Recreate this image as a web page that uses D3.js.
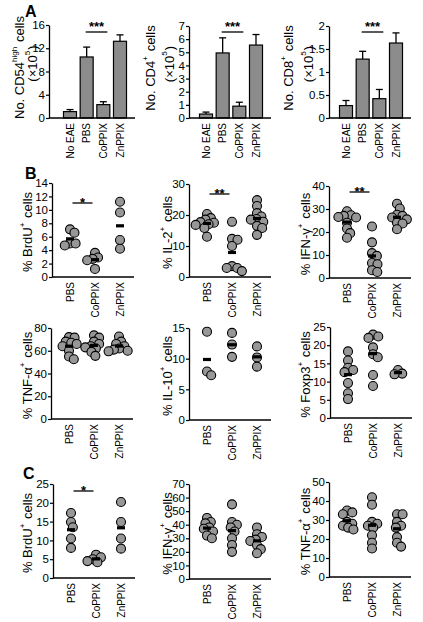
<!DOCTYPE html>
<html><head><meta charset="utf-8">
<script src="https://cdn.jsdelivr.net/npm/d3@7"></script>
<style>
body{margin:0;background:#fff}
svg{display:block}
text{font-family:"Liberation Sans",Arial,Helvetica,sans-serif;fill:#000}
.tick text{font-family:"Liberation Sans Narrow","Liberation Sans",Arial,sans-serif}
</style>
</head><body>
<svg id="chart" width="423" height="622"></svg>
<script>
// ---------------- DATA ----------------
const barGroups = ["No EAE", "PBS", "CoPPIX", "ZnPPIX"];
const cd54Mean = [1.1, 10.5, 2.3, 13.2];
const cd54Err  = [0.35, 1.7, 0.5, 1.1];
const cd4Mean  = [0.3, 4.95, 0.9, 5.55];
const cd4Err   = [0.15, 1.15, 0.3, 0.8];
const cd8Mean  = [0.27, 1.28, 0.42, 1.63];
const cd8Err   = [0.11, 0.17, 0.2, 0.22];
const cd54Ticks = [0, 4, 8, 12, 16];
const cd4Ticks  = [0, 1, 2, 3, 4, 5, 6, 7];
const cd8Ticks  = [0, 0.5, 1, 1.5, 2];

const dotGroups = ["PBS", "CoPPIX", "ZnPPIX"];
const brduB = [[7.1, 6.6, 5.0, 5.0, 4.7], [3.6, 2.9, 2.7, 2.5, 1.2], [11.2, 9.6, 5.5, 4.2]];
const il2B  = [[20.3, 19.0, 18.5, 17.7, 17.5, 17.0, 16.8, 15.8, 13.0], [17.8, 12.3, 12.0, 10.0, 3.5, 2.9, 2.9, 1.9], [24.8, 22.9, 20.6, 19.5, 18.7, 18.5, 17.8, 16.5, 15.8, 13.6]];
const ifngB = [[29, 27.3, 27, 26.5, 26.3, 24, 21.5, 19.5, 17.5], [22.4, 15.5, 10.8, 9.6, 6.5, 6.0, 3.4, 2.6], [32.3, 30.2, 27.5, 27, 26.3, 25.5, 24, 23.7, 21.2]];
const tnfB  = [[72, 71.5, 68, 67, 66, 64, 60, 55, 52.5], [73.5, 71.5, 68, 66, 64, 63, 62, 59, 55.5], [72.5, 68, 66, 64, 62, 61, 60, 59.5]];
const il10B = [[14.4, 7.9, 7.3], [14.2, 12.3, 10.3], [12.0, 10.2, 8.7]];
const foxp3B = [[18.3, 15.8, 13.8, 13.2, 12.6, 9.6, 6.8, 5.2], [22.9, 22.4, 22.0, 19.4, 17.5, 16.7, 11.8, 8.8], [13.2, 12.2, 12.0]];
const brduC = [[17.3, 14.9, 13.5, 10.5, 8.0], [6.2, 5.5, 5.0, 4.5, 4.2], [20.2, 14.9, 10.5, 7.8]];
const ifngC = [[45, 42, 41, 38, 37, 35, 32, 30], [55, 42, 40, 38, 35, 30, 25, 20], [38, 33, 31, 29, 28, 25, 22, 19]];
const tnfC  = [[35, 34, 33, 29, 28, 27, 26, 25], [42, 38, 29, 28, 27, 26, 22, 18, 15], [33, 33, 29, 27, 26, 21, 18, 16]];

const brduBTicks = [0, 2, 4, 6, 8, 10, 12, 14];
const il2Ticks = [0, 10, 20, 30];
const ifngBTicks = [0, 10, 20, 30, 40];
const tnfBTicks = [0, 20, 40, 60, 80];
const il10Ticks = [0, 5, 10, 15];
const foxp3Ticks = [0, 5, 10, 15, 20, 25];
const brduCTicks = [0, 5, 10, 15, 20, 25];
const ifngCTicks = [0, 10, 20, 30, 40, 50, 60, 70];
const tnfCTicks = [0, 10, 20, 30, 40, 50];

// ---------------- LAYOUT ----------------
const svg = d3.select("#chart");
const FILL_BAR = "#8c8c8c", FILL_DOT = "#979797";

function supLabel(g, parts, x, y, size) {
  const t = g.append("text")
    .attr("transform", `translate(${x},${y}) rotate(-90)`)
    .attr("text-anchor", "middle")
    .attr("dominant-baseline", "central")
    .style("font-size", size + "px");
  parts.forEach(p => {
    if (p.sup) {
      t.append("tspan").attr("dy", -size * 0.35).style("font-size", (size * 0.62) + "px").text(p.t);
      t.append("tspan").attr("dy", size * 0.35).text("\u200A");
    } else t.append("tspan").text(p.t);
  });
}

function yAxis(g, y, x0, ticks) {
  const ax = g.append("g").attr("transform", `translate(${x0},0)`)
    .call(d3.axisLeft(y).tickValues(ticks).tickFormat(d => String(d)).tickSize(3).tickSizeOuter(0).tickPadding(1));
  ax.attr("font-family", null);
  ax.select(".domain").attr("stroke-width", 1.3);
  ax.selectAll(".tick line").attr("stroke-width", 1.2);
  ax.selectAll(".tick text").style("font-size", "11.5px");
}

function xLabels(g, cats, xs, yb) {
  cats.forEach(c => {
    g.append("text")
      .attr("transform", `translate(${xs(c)},${yb + 5}) rotate(-90)`)
      .attr("text-anchor", "end")
      .attr("dominant-baseline", "central")
      .style("font-size", "10px")
      .text(c);
  });
}

function sig(g, x1, x2, yl, stars, dy) {
  g.append("line").attr("x1", x1).attr("x2", x2).attr("y1", yl).attr("y2", yl)
    .attr("stroke", "#000").attr("stroke-width", 1.3);
  g.append("text").attr("x", (x1 + x2) / 2).attr("y", yl + dy)
    .attr("text-anchor", "middle").style("font-size", "13px").style("font-weight", "bold").text(stars);
}

// Bar panels
const barPanels = [
  {mean: cd54Mean, err: cd54Err, ticks: cd54Ticks, x0: 49, xStart: 21, xEnd: 86, yTop: 25, yBot: 118,
   label1: [{t: "No. CD54"}, {t: "high", sup: true}, {t: "cells"}], l1x: 19, l2x: 32},
  {mean: cd4Mean, err: cd4Err, ticks: cd4Ticks, x0: 189, xStart: 17, xEnd: 82, yTop: 26, yBot: 118,
   label1: [{t: "No. CD4"}, {t: "+", sup: true}, {t: "cells"}], l1x: 150, l2x: 169},
  {mean: cd8Mean, err: cd8Err, ticks: cd8Ticks, x0: 329, xStart: 17, xEnd: 82, yTop: 26, yBot: 118,
   label1: [{t: "No. CD8"}, {t: "+", sup: true}, {t: "cells"}], l1x: 288, l2x: 308}
];

barPanels.forEach(p => {
  const g = svg.append("g");
  const y = d3.scaleLinear().domain([p.ticks[0], p.ticks[p.ticks.length - 1]]).range([p.yBot, p.yTop]);
  const x = d3.scalePoint().domain(barGroups).range([p.x0 + p.xStart, p.x0 + p.xStart + 50]);
  const bw = 13;
  const rows = barGroups.map((c, i) => ({c, m: p.mean[i], e: p.err[i]}));
  g.selectAll(".eb").data(rows).join("line")
    .attr("x1", d => x(d.c)).attr("x2", d => x(d.c))
    .attr("y1", d => y(d.m)).attr("y2", d => y(d.m + d.e))
    .attr("stroke", "#000").attr("stroke-width", 1.3);
  g.selectAll(".cap").data(rows).join("line")
    .attr("x1", d => x(d.c) - 3.5).attr("x2", d => x(d.c) + 3.5)
    .attr("y1", d => y(d.m + d.e)).attr("y2", d => y(d.m + d.e))
    .attr("stroke", "#000").attr("stroke-width", 1.3);
  g.selectAll(".bar").data(rows).join("rect")
    .attr("x", d => x(d.c) - bw / 2).attr("width", bw)
    .attr("y", d => y(d.m)).attr("height", d => y(0) - y(d.m))
    .attr("fill", FILL_BAR).attr("stroke", "#000").attr("stroke-width", 1.2);
  yAxis(g, y, p.x0, p.ticks);
  g.append("line").attr("x1", p.x0).attr("x2", p.x0 + p.xEnd).attr("y1", p.yBot).attr("y2", p.yBot)
    .attr("stroke", "#000").attr("stroke-width", 1.3);
  xLabels(g, barGroups, x, p.yBot);
  const my = (p.yTop + p.yBot) / 2 - 4;
  supLabel(g, p.label1.map((q, i) => i === 2 ? {t: " " + q.t} : q), p.l1x, my, 13);
  supLabel(g, [{t: "(×10"}, {t: "5", sup: true}, {t: ")"}], p.l2x, my - 4, 13);
  sig(g, x("PBS") - 1, x("CoPPIX") + 4, 32, "***", -1);
});

// Dot panels
const dotPanels = [
  {data: brduB, ticks: brduBTicks, x0: 52, yTop: 183, yBot: 277, lab: "BrdU", lx: 27, sig: ["*", 203]},
  {data: il2B, ticks: il2Ticks, x0: 189, yTop: 184, yBot: 277, lab: "IL-2", lx: 167, sig: ["**", 194]},
  {data: ifngB, ticks: ifngBTicks, x0: 329, yTop: 186, yBot: 278, lab: "IFN-γ", lx: 305, sig: ["**", 192]},
  {data: tnfB, ticks: tnfBTicks, x0: 51, yTop: 328, yBot: 419, lab: "TNF-α", lx: 27},
  {data: il10B, ticks: il10Ticks, x0: 189, yTop: 328, yBot: 420, lab: "IL-10", lx: 167},
  {data: foxp3B, ticks: foxp3Ticks, x0: 330, yTop: 327, yBot: 418, lab: "Foxp3", lx: 305},
  {data: brduC, ticks: brduCTicks, x0: 53, yTop: 484, yBot: 578, lab: "BrdU", lx: 27, sig: ["*", 491]},
  {data: ifngC, ticks: ifngCTicks, x0: 189, yTop: 484, yBot: 579, lab: "IFN-γ", lx: 167},
  {data: tnfC, ticks: tnfCTicks, x0: 329, yTop: 482, yBot: 577, lab: "TNF-α", lx: 305}
];

const R = 4.5;
function dodge(vals, y, cx) {
  const sorted = vals.slice().sort((a, b) => b - a);
  const placed = [];
  const sep = 2 * R * 0.62;
  sorted.forEach(v => {
    const py = y(v);
    const cands = [0];
    placed.forEach(q => {
      const dy = Math.abs(q.y - py);
      if (dy < sep) {
        const dx = Math.sqrt(sep * sep - dy * dy);
        cands.push(q.dx + dx, q.dx - dx);
      }
    });
    cands.sort((a, b) => Math.abs(a) - Math.abs(b) || b - a);
    let best = cands.find(c => placed.every(q => (q.dx - c) ** 2 + (q.y - py) ** 2 >= sep * sep - 0.01));
    if (best === undefined) best = 0;
    placed.push({v, y: py, dx: best});
  });
  return placed.map(q => ({v: q.v, cx: cx + q.dx, cy: q.y}));
}

dotPanels.forEach(p => {
  const g = svg.append("g");
  const y = d3.scaleLinear().domain([p.ticks[0], p.ticks[p.ticks.length - 1]]).range([p.yBot, p.yTop]);
  const x = d3.scalePoint().domain(dotGroups).range([p.x0 + 18, p.x0 + 68]);
  yAxis(g, y, p.x0, p.ticks);
  g.append("line").attr("x1", p.x0).attr("x2", p.x0 + 82).attr("y1", p.yBot).attr("y2", p.yBot)
    .attr("stroke", "#000").attr("stroke-width", 1.3);
  dotGroups.forEach((c, i) => {
    const pts = dodge(p.data[i], y, x(c));
    g.selectAll(null).data(pts).join("circle")
      .attr("cx", d => d.cx).attr("cy", d => d.cy).attr("r", R)
      .attr("fill", FILL_DOT).attr("stroke", "#000").attr("stroke-width", 1.1);
    const m = d3.mean(p.data[i]);
    g.append("rect").attr("x", x(c) - 4).attr("width", 8).attr("y", y(m) - 1.6).attr("height", 3.2).attr("fill", "#000");
  });
  xLabels(g, dotGroups, x, p.yBot);
  supLabel(g, [{t: "% " + p.lab}, {t: "+", sup: true}, {t: " cells"}], p.lx, (p.yTop + p.yBot) / 2 + 2, 13);
  if (p.sig) {
    const mid = (x("PBS") + x("CoPPIX")) / 2;
    sig(g, mid - 10, mid + 10, p.sig[1], p.sig[0], 4);
  }
});

// Panel letters
[["A", 25, 17], ["B", 25, 179], ["C", 23, 479]].forEach(([t, x, yy]) => {
  svg.append("text").attr("x", x).attr("y", yy).style("font-size", "16px").style("font-weight", "bold").text(t);
});
</script>
</body></html>
